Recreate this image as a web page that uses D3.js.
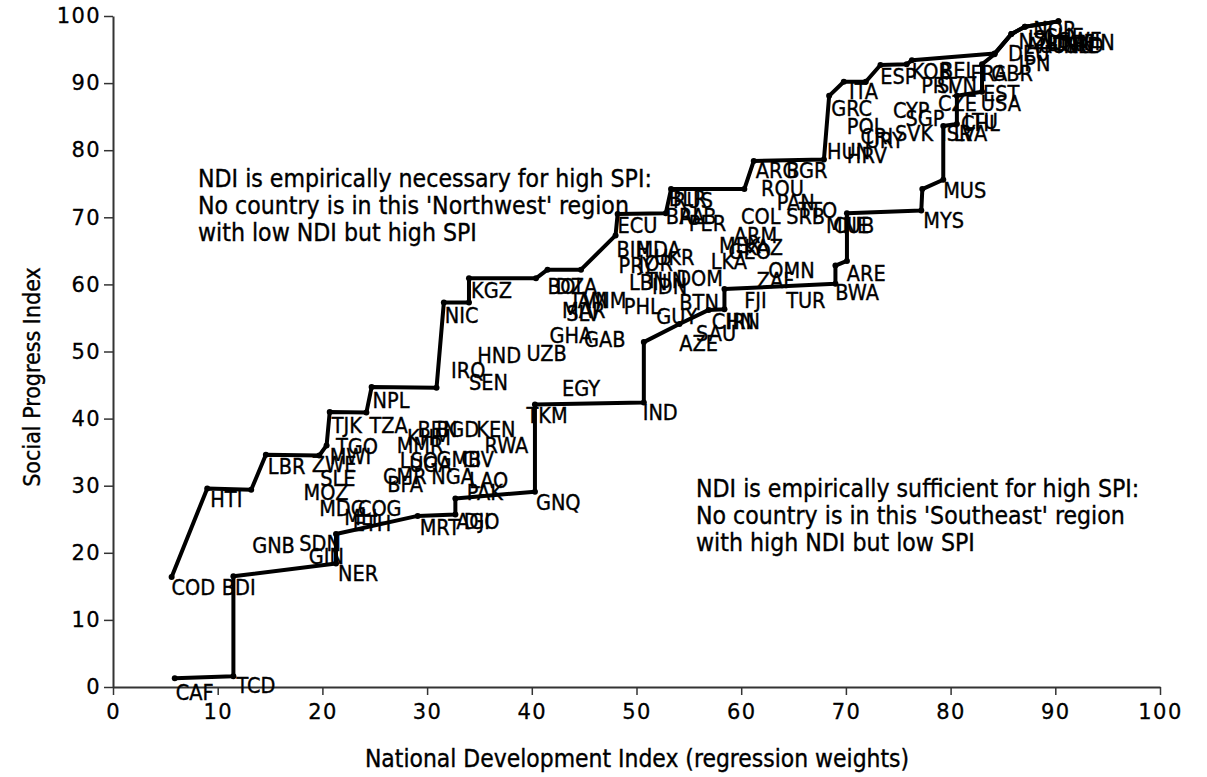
<!DOCTYPE html>
<html>
<head>
<meta charset="utf-8">
<script src="https://cdn.jsdelivr.net/npm/d3@7/dist/d3.min.js"></script>
<style>
  body { margin: 0; background: #fff; }
  svg { display: block; }
  .lab, .note, .title { font-family: "DejaVu Sans Condensed", "DejaVu Sans", sans-serif; font-stretch: condensed; fill: #000; stroke: #000; stroke-width: 0.35px; }
  .tick text { font-family: "DejaVu Sans", sans-serif; font-size: 21px; fill: #000; stroke: #000; stroke-width: 0.3px; }
</style>
</head>
<body>
<svg id="chart" width="1207" height="777"></svg>
<script>
// Country codes with National Development Index (x) and Social Progress Index (y)
const countryCodes = ["CAF","TCD","COD","BDI","HTI","LBR","GNB","SDN","GIN","NER","MOZ","ZWE","SLE","MWI","TGO","TJK","TZA","NPL","MDG","COG","MLI","ETH","MRT","AGO","DJI","PAK","LAO","NGA","CIV","GMB","RWA","KEN","BGD","BEN","KHM","MMR","UGA","LSO","CMR","BFA","GNQ","TKM","IND","EGY","IRQ","SEN","HND","UZB","NIC","KGZ","BOL","DZA","JAM","VNM","MAR","SLV","GHA","GAB","PHL","GUY","AZE","SAU","BTN","LBN","TUN","IDN","DOM","PRY","JOR","UKR","BIH","MDA","ECU","BLR","RUS","BRA","ALB","PER","COL","ARM","MEX","GEO","KAZ","LKA","OMN","ZAF","FJI","TUR","BWA","ARE","CHN","IRN","ARG","BGR","ROU","PAN","TTO","SRB","MNE","CUB","MYS","MUS","HUN","HRV","GRC","ITA","POL","URY","CRI","SVK","CYP","SGP","ISR","LVA","CHL","LTU","CZE","PRT","SVN","ESP","KOR","BEL","FRA","GBR","EST","USA","JPN","DEU","NOR","CHE","SWE","FIN","DNK","ISL","NLD","AUS","NZL","CAN","IRL","AUT"];
const countryNdi = [5.8,11.6,5.4,10.2,9.1,14.6,13.1,17.6,18.5,21.3,18.0,18.8,19.6,20.5,21.1,20.7,24.3,24.6,19.5,23.2,21.9,22.7,29.1,32.6,33.3,33.6,33.8,30.2,33.1,30.7,35.3,34.5,30.7,28.9,27.9,26.9,28.1,27.2,25.6,26.0,40.2,39.3,50.4,42.7,32.1,33.8,34.6,39.3,31.5,34.0,41.3,42.1,43.7,44.6,42.7,43.1,41.5,44.8,48.6,51.7,53.9,55.5,53.9,49.1,50.7,51.3,53.6,48.1,50.0,51.5,47.9,49.8,48.0,52.9,53.3,52.6,53.9,54.8,59.8,59.1,57.7,58.6,60.1,56.9,62.4,61.3,60.1,64.1,68.8,69.9,57.0,58.4,61.2,64.1,61.7,63.2,65.3,64.1,67.9,68.6,77.2,79.1,68.0,69.9,68.4,70.1,69.9,71.7,71.2,74.5,74.3,75.5,78.9,80.1,80.8,81.1,78.6,77.0,78.5,73.1,76.1,78.8,81.7,83.7,82.9,82.7,86.3,85.3,87.7,88.7,90.1,92.5,89.1,87.2,90.6,88.2,86.3,89.6,91.0,87.0];
const countrySpi = [0.7,1.8,16.4,16.4,29.5,34.5,22.6,22.9,21.0,18.5,30.5,34.7,32.7,35.9,37.4,40.6,40.6,44.3,28.1,28.1,26.8,26.0,25.3,26.2,26.2,30.5,32.3,32.9,35.4,35.4,37.6,39.9,39.9,39.9,38.8,37.6,34.7,35.3,32.9,31.8,29.0,42.1,42.4,46.1,48.8,46.9,51.0,51.3,57.0,60.7,61.2,61.3,59.1,59.1,57.7,57.3,54.0,53.3,58.3,56.8,52.8,54.3,58.8,61.8,62.2,61.3,62.5,64.4,64.7,65.6,66.7,66.7,70.4,74.4,74.0,71.7,71.7,70.7,71.7,68.9,67.4,66.5,67.0,65.0,63.7,62.2,59.2,59.2,60.3,63.2,56.1,56.1,78.6,78.6,75.9,73.7,72.6,71.7,70.4,70.4,71.1,75.6,81.4,80.8,87.8,90.3,85.1,83.0,83.6,84.1,87.5,86.3,84.1,84.1,85.6,85.9,88.5,91.2,91.2,92.6,93.3,93.5,93.0,93.0,90.0,88.5,94.5,96.0,99.6,98.5,97.9,97.6,97.5,98.2,97.2,97.2,97.8,97.5,97.2,97.2];

// Upper envelope (ceiling): no country lies above it
const ceilingNdi = [5.6,9.0,13.2,14.6,19.7,20.4,20.7,24.2,24.7,30.9,31.6,34.0,34.0,40.4,41.5,44.7,48.0,48.2,52.8,53.3,60.3,61.2,67.9,68.4,69.8,71.9,73.3,75.8,76.3,84.2,85.8,87.1,90.3];
const ceilingSpi = [16.4,29.6,29.4,34.6,34.5,36.0,41.0,40.9,44.7,44.6,57.3,57.3,60.9,60.9,62.2,62.2,67.3,70.5,70.6,74.2,74.2,78.4,78.6,88.1,90.2,90.2,92.7,92.8,93.4,94.4,97.3,98.4,99.2];

// Lower envelope (floor): no country lies below it
const floorNdi = [5.9,11.5,11.5,21.3,21.3,29.1,32.7,32.7,40.3,40.3,50.7,50.7,54.1,56.9,58.4,58.4,69.0,69.0,70.1,70.1,77.2,77.3,79.3,79.3,80.6,80.6,83.0,83.0,84.2,85.8,87.1,90.3];
const floorSpi = [1.3,1.6,16.5,18.4,22.8,25.5,25.7,28.1,29.1,42.1,42.4,51.4,54.1,56.2,56.3,59.3,60.1,62.8,63.5,70.6,71.0,74.2,75.6,83.6,83.9,88.1,88.7,92.8,94.3,97.3,98.4,99.2];

const xTicks = [0,10,20,30,40,50,60,70,80,90,100];
const yTicks = [0,10,20,30,40,50,60,70,80,90,100];

const xTitle = "National Development Index (regression weights)";
const yTitle = "Social Progress Index";
const noteNW = ["NDI is empirically necessary for high SPI:", "No country is in this 'Northwest' region", "with low NDI but high SPI"];
const noteSE = ["NDI is empirically sufficient for high SPI:", "No country is in this 'Southeast' region", "with high NDI but low SPI"];

const svg = d3.select("#chart");
const x = d3.scaleLinear().domain([0, 100]).range([113, 1160]);
const y = d3.scaleLinear().domain([0, 100]).range([687, 16]);

// Axes
const xAxis = svg.append("g").attr("transform", `translate(0,${y(0)})`)
  .call(d3.axisBottom(x).tickValues(xTicks).tickFormat(d3.format("d")).tickSize(8).tickSizeOuter(0).tickPadding(9));
const yAxis = svg.append("g").attr("transform", `translate(${x(0)},0)`)
  .call(d3.axisLeft(y).tickValues(yTicks).tickFormat(d3.format("d")).tickSize(9).tickSizeOuter(0).tickPadding(3));
[xAxis, yAxis].forEach(g => {
  g.select(".domain").attr("stroke", "#333").attr("stroke-width", 2);
  g.selectAll(".tick line").attr("stroke", "#333").attr("stroke-width", 1.5);
  g.selectAll(".tick text").style("letter-spacing", "1.4px");
});

// Axis titles
svg.append("text").attr("class", "title")
  .attr("x", 637).attr("y", 767)
  .attr("text-anchor", "middle").style("font-size", "24.4px").text(xTitle);
svg.append("text").attr("class", "title")
  .attr("transform", `translate(40,${377}) rotate(-90)`)
  .attr("text-anchor", "middle").style("font-size", "23px").text(yTitle);

// Envelope lines with markers
const pts = (xs, ys) => xs.map((v, i) => [v, ys[i]]);
const line = d3.line().x(d => x(d[0])).y(d => y(d[1]));
[pts(ceilingNdi, ceilingSpi), pts(floorNdi, floorSpi)].forEach(p => {
  svg.append("path").datum(p).attr("d", line)
    .attr("fill", "none").attr("stroke", "#000").attr("stroke-width", 4)
    .attr("stroke-linejoin", "round");
  svg.append("g").selectAll("circle").data(p).join("circle")
    .attr("cx", d => x(d[0])).attr("cy", d => y(d[1])).attr("r", 3).attr("fill", "#000");
});

// Country labels, hung below-right of each country's position
svg.append("g").selectAll("text").data(countryCodes).join("text")
  .attr("class", "lab")
  .attr("x", (d, i) => x(countryNdi[i]) + 2)
  .attr("y", (d, i) => y(countrySpi[i]) + 18)
  .style("font-size", "21.5px")
  .text(d => d);

// Region notes
const notes = [[noteNW, 198, 187], [noteSE, 696, 497]];
notes.forEach(([lines, nx, ny]) => {
  const t = svg.append("text").attr("class", "note").style("font-size", "24.6px");
  lines.forEach((s, i) => t.append("tspan").attr("x", nx).attr("y", ny + i * 27).text(s));
});
</script>
</body>
</html>
